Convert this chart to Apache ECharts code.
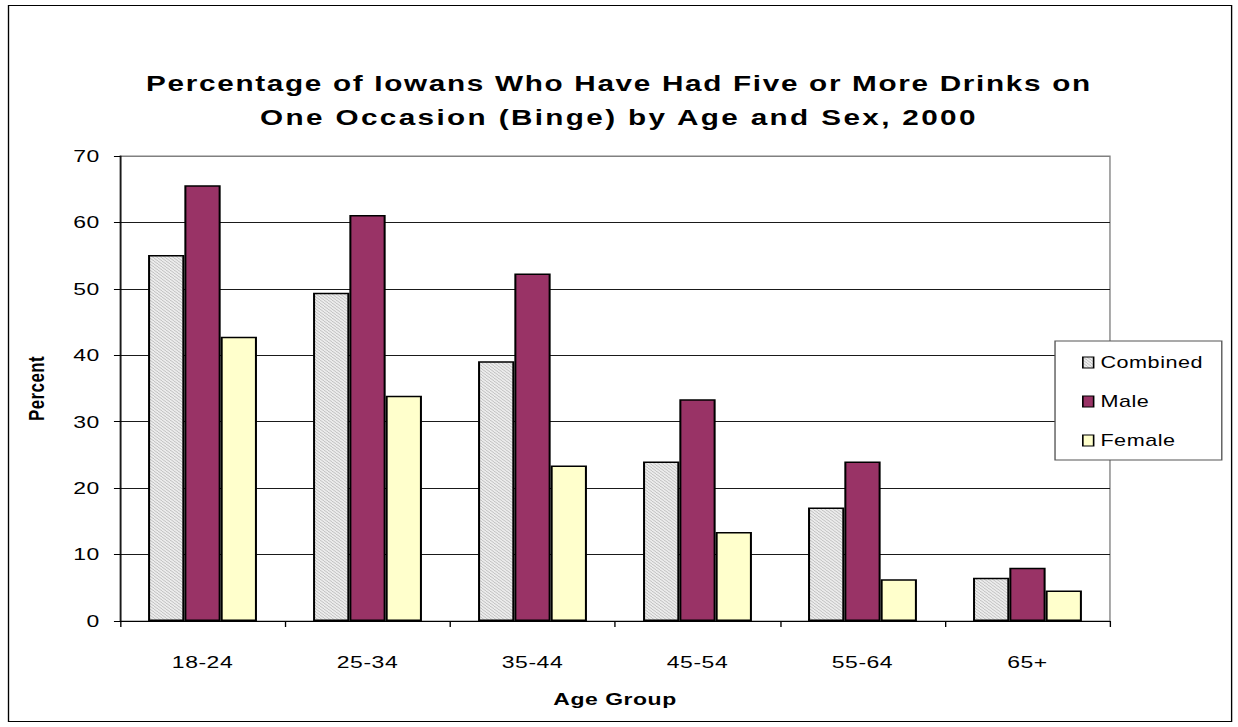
<!DOCTYPE html>
<html>
<head>
<meta charset="utf-8">
<script src="https://cdn.jsdelivr.net/npm/echarts@6/dist/echarts.min.js"></script>
<style>
  html, body { margin: 0; padding: 0; background: #fff; overflow: hidden; }
  /* the chart is laid out on a narrower canvas and widened horizontally */
  #chart { width: 917px; height: 727px; transform: scaleX(1.35); transform-origin: 0 0; }
  #chart svg text { letter-spacing: 0.4px; }
</style>
</head>
<body>
<div id="chart"></div>
<script>
// Binge drinking by age group and sex (percent)
const ageGroups = ['18-24', '25-34', '35-44', '45-54', '55-64', '65+'];
const combined  = [55.1, 49.4, 39.1, 24.0, 17.1, 6.5];
const male      = [65.6, 61.1, 52.3, 33.4, 24.0, 8.0];
const female    = [42.8, 33.9, 23.4, 13.4, 6.3, 4.6];
const seriesNames = ['Combined', 'Male', 'Female'];
const titleLines = [
  'Percentage of Iowans Who Have Had Five or More Drinks on',
  'One Occasion (Binge) by Age and Sex, 2000'
];

const FONT = '"Liberation Sans", Arial, sans-serif';

// fine diagonal hatch used for the "Combined" bars
function hatchTile() {
  const c = document.createElement('canvas');
  c.width = 3; c.height = 3;
  const g = c.getContext('2d');
  g.fillStyle = '#ececec';
  g.fillRect(0, 0, 3, 3);
  g.fillStyle = '#c2c2c2';
  for (let i = 0; i < 3; i++) g.fillRect(i, i, 1, 1);
  return c;
}
const hatch = { image: hatchTile(), repeat: 'repeat' };

const barBorder = { borderColor: '#000', borderWidth: 1.5 };

const chart = echarts.init(document.getElementById('chart'), null, { renderer: 'svg', width: 917, height: 727 });

chart.setOption({
  animation: false,
  backgroundColor: '#fff',
  textStyle: { fontFamily: FONT, color: '#000' },
  graphic: [{
    type: 'rect',
    silent: true,
    z: -10,
    shape: { x: 6.3, y: 5.5, width: 906, height: 716 },
    style: { fill: 'none', stroke: '#000', lineWidth: 1 }
  }],
  title: {
    text: titleLines.join('\n'),
    left: 'center',
    top: 66,
    padding: 0,
    textStyle: { fontFamily: FONT, fontSize: 22, fontWeight: 'bold', lineHeight: 34, color: '#000' }
  },
  legend: {
    data: seriesNames,
    orient: 'vertical',
    left: 781.5,
    top: 341,
    padding: [13, 17, 11, 20],
    itemGap: 22,
    itemWidth: 8,
    itemHeight: 11,
    icon: 'rect',
    borderColor: '#555',
    borderWidth: 1,
    backgroundColor: '#fff',
    itemStyle: { borderColor: '#000', borderWidth: 1.2 },
    textStyle: { fontFamily: FONT, fontSize: 16, lineHeight: 17, color: '#000' }
  },
  grid: {
    left: 88.9, right: 94.8, top: 156, bottom: 106,
    show: true, borderColor: '#808080', borderWidth: 1, backgroundColor: '#fff'
  },
  xAxis: {
    type: 'category',
    data: ageGroups,
    name: 'Age Group',
    nameLocation: 'middle',
    nameGap: 70,
    nameTextStyle: { fontFamily: FONT, fontSize: 17, fontWeight: 'bold', color: '#000' },
    axisLine: { lineStyle: { color: '#000', width: 1 } },
    axisTick: { show: true, length: 6, interval: 0, lineStyle: { color: '#000' } },
    axisLabel: { fontFamily: FONT, fontSize: 17, color: '#000', margin: 33, interval: 0 },
    splitLine: { show: false }
  },
  yAxis: {
    type: 'value',
    min: 0, max: 70, interval: 10,
    name: 'Percent',
    nameLocation: 'middle',
    nameGap: 54,
    nameTextStyle: { fontFamily: FONT, fontSize: 17, fontWeight: 'bold', color: '#000' },
    axisLine: { show: true, lineStyle: { color: '#000', width: 1 } },
    axisTick: { show: true, length: 4.5, lineStyle: { color: '#000' } },
    axisLabel: { fontFamily: FONT, fontSize: 17, color: '#000', margin: 15 },
    splitLine: {
      show: true,
      lineStyle: { color: ['#1a1a1a', '#1a1a1a', '#1a1a1a', '#1a1a1a', '#1a1a1a', '#1a1a1a', '#1a1a1a', '#808080'], width: 1 }
    }
  },
  series: [
    { name: 'Combined', type: 'bar', data: combined, barGap: '0%', barCategoryGap: '34%',
      itemStyle: Object.assign({ color: hatch }, barBorder) },
    { name: 'Male', type: 'bar', data: male, barGap: '0%', barCategoryGap: '34%',
      itemStyle: Object.assign({ color: '#993366' }, barBorder) },
    { name: 'Female', type: 'bar', data: female, barGap: '0%', barCategoryGap: '34%',
      itemStyle: Object.assign({ color: '#FFFFCC' }, barBorder) }
  ]
});

// wider tracking for the two title lines
const titleTracking = ['1.25px', '1.75px'];
function spaceTitle() {
  document.querySelectorAll('#chart svg text').forEach(function (t) {
    const i = titleLines.indexOf(t.textContent);
    if (i >= 0) t.style.letterSpacing = titleTracking[i];
  });
}
chart.on('finished', spaceTitle);
spaceTitle();
</script>
</body>
</html>
